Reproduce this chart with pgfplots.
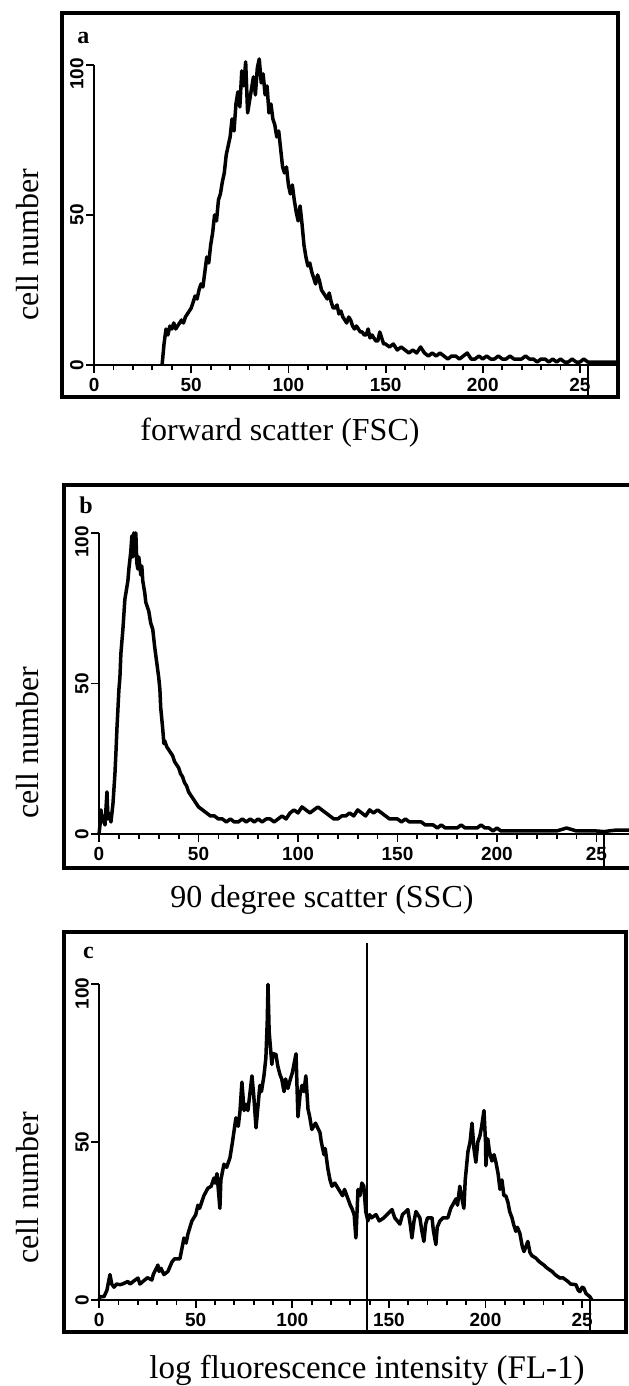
\documentclass[border=0pt]{standalone}
\usepackage{fontspec}
\setmainfont{Liberation Serif}
\newfontfamily\tickfont{Liberation Sans}
\usepackage{pgfplots}
\pgfplotsset{compat=1.18}

\pgfplotsset{
  facs/.style={
    anchor=north west, scale only axis, clip=false,
    axis lines=left, axis line style={draw=none},
    xmin=0, ymin=0,
    xtick={0,50,100,150,200,250},
    xticklabels={0,50,100,150,200,25},
    minor x tick num=4,
    ytick={0,50,100},
    yticklabels={0,50,{100\rule{9pt}{0pt}}},
    tick align=outside,
    major tick length=4pt, minor tick length=2.5pt,
    every tick/.style={black, line width=0.9pt},
    ticklabel style={font=\tickfont\bfseries\fontsize{9.5}{9.5}\selectfont, inner sep=1pt},
    /pgf/number format/assume math mode=true,
    yticklabel style={rotate=90, anchor=south},
    xticklabel style={anchor=north, yshift=-1.5pt},
  },
  hist/.style={black, line width=1.75pt, line join=round, mark=none},
}

\begin{document}
\begin{tikzpicture}
\useasboundingbox (0,0) rectangle (314pt,-693pt);

% ---- panel a ----
\begin{axis}[facs, at={(47.03pt,-6.5pt)}, width=262pt, height=176pt,
  xmax=269.6, ymax=117.3]
\addplot[hist] coordinates {
(35,0)(36,7)(37,12)(38,10)(39,13)(40,12)(41,14)(42,12)(43,13)(44,14)(45,15)(46,14)(47,16)(48,17)(49,18)(50,19)
(51,21)(52,23)(53,22)(54,25)(55,27)(56,26)(57,31)(58,36)(59,34)(60,40)(61,44)(62,50)(63,48)(64,55)(65,57)(66,61)
(67,64)(68,70)(69,73)(70,76)(71,82)(72,78)(73,87)(74,91)(75,86)(76,98)(77,93)(78,101)(79,84)(80,88)(81,92)(82,96)
(83,90)(84,99)(85,102)(86,94)(87,97)(88,90)(89,93)(90,84)(91,87)(92,82)(93,80)(94,76)(95,78)(96,72)(97,66)(98,64)
(99,66)(100,60)(101,57)(102,60)(103,55)(104,51)(105,48)(106,53)(107,47)(108,40)(109,36)(110,33)(111,34)(112,31)
(113,29)(114,27)(115,30)(116,28)(117,25)(118,24)(119,23)(120,22)(121,24)(122,21)(123,19)(124,19)(125,20)(126,17)
(127,18)(128,16)(129,15)(130,14)(131,16)(132,15)(133,13)(134,12)(135,13)(136,12)(137,11)(138,11)(139,10)(140,10)
(141,12)(142,9)(143,10)(144,9)(145,8)(146,8)(147,11)(148,9)(149,7)(150,7)(152,6)(154,7)(156,5)(158,6)(160,5)
(162,4)(164,5)(166,4)(168,6)(170,4)(172,3)(174,4)(176,3)(178,4)(180,3)(182,2)(184,3)(186,3)(188,2)(190,3)(192,4)
(194,2)(196,2)(198,3)(200,2)(202,3)(204,2)(206,2)(208,3)(210,2)(212,2)(214,3)(216,2)(218,2)(220,2)(222,3)(224,2)
(226,2)(228,1)(230,2)(232,2)(234,1)(236,2)(238,1)(240,2)(242,1)(244,1)(246,2)(248,1)(250,1)(252,2)(254,1)(256,1)
(269.6,1)
};
\draw[line width=1pt] (axis cs:0,100) -- (axis cs:0,0) -- (axis cs:269.6,0);
\draw[line width=1pt] (axis cs:254,0) -- (axis cs:254,-10.67);
\draw[line width=1.8pt] (axis cs:-16.5,-10.67) rectangle (axis cs:269.6,117.3);
\node[font=\fontsize{12}{12}\selectfont\bfseries, inner sep=0pt] at (axis cs:-5.5,109) {a};
\end{axis}
\node[rotate=90, font=\fontsize{16}{16}\selectfont] at (14pt,-122.5pt) {cell number};
\node[font=\fontsize{16}{16}\selectfont] at (140pt,-216.5pt) {forward scatter (FSC)};

% ---- panel b ----
\begin{axis}[facs, at={(49.51pt,-242.5pt)}, width=270.5pt, height=174.5pt,
  xmax=271.9, ymax=115.9]
\addplot[hist] coordinates {
(0,0)(0.5,3)(1,8)(1.5,4)(2,6)(3,3)(4,14)(4.5,5)(5,7)(6,4)(7,10)(8,20)(8.5,27)(9,35)(10,48)(10.5,52)(11,60)(12,68)
(12.5,73)(13,78)(14,82)(14.5,84)(15,88)(16,94)(16.5,99)(17,92)(17.5,100)(18,93)(18.5,100)(19,90)(19.5,88)(20,92)
(21,86)(21.5,89)(22,84)(23,80)(23.5,77)(24,76)(25,74)(26,70)(27,68)(28,62)(29,57)(30,52)(30.6,48)(31,42)(32,35)
(32.6,30)(33,31)(34,29)(35,28)(36,27)(37,26)(38,24)(39,23)(40,22)(41,20)(42,19)(43,17)(44,16)(45,14)(46,13)(47,12)
(48,11)(49,10)(50,9)(52,8)(54,7)(56,6)(58,6)(60,5)(62,5)(64,4)(66,5)(68,4)(70,4)(72,5)(74,4)(76,5)(78,4)(80,5)
(82,4)(84,5)(86,5)(88,4)(90,5)(92,6)(94,5)(96,7)(98,8)(100,7)(102,9)(104,8)(106,7)(108,8)(110,9)(112,8)(114,7)
(116,6)(118,5)(120,5)(122,6)(124,6)(126,7)(128,6)(130,8)(132,7)(134,6)(136,8)(138,7)(140,8)(142,7)(144,6)(146,5)
(148,5)(150,5)(152,4)(154,5)(156,4)(158,4)(160,4)(162,4)(164,3)(166,3)(168,3)(170,2)(172,3)(174,2)(176,2)(178,2)
(180,2)(182,3)(184,2)(186,2)(188,2)(190,2)(192,3)(194,2)(196,2)(198,1)(200,2)(202,1)(204,1)(206,1)(208,1)(210,1)
(215,1)(220,1)(225,1)(230,1)(235,2)(240,1)(245,1)(250,1)(254,0.8)(256,1)(260,1.3)(271.9,1.3)
};
\draw[line width=1pt] (axis cs:0,100) -- (axis cs:0,0) -- (axis cs:271.9,0);
\draw[line width=1pt] (axis cs:254,0) -- (axis cs:254,-11.3);
\draw[line width=1.8pt] (axis cs:-17.6,-11.3) rectangle (axis cs:271.9,115.9);
\node[font=\fontsize{12}{12}\selectfont\bfseries, inner sep=0pt] at (axis cs:-6.5,109) {b};
\end{axis}
\node[rotate=90, font=\fontsize{16}{16}\selectfont] at (14pt,-371.5pt) {cell number};
\node[font=\fontsize{16}{16}\selectfont] at (161pt,-450pt) {90 degree scatter (SSC)};

% ---- panel c ----
\begin{axis}[facs, at={(49.58pt,-466pt)}, width=263.4pt, height=183.9pt,
  xmax=272.7, ymax=116.6]
\addplot[hist] coordinates {
(0,0)(0.4,1)(2.5,1)(4,3)(5.6,8)(6.5,5)(7.7,4)(9,5)(10.8,4.8)(12,5)(14.9,5.8)(16,5)(18,6)(20.1,6.9)(21.1,5)(23,6)
(25,7)(27.3,6.3)(28,8)(30.4,11)(31,9)(32,10)(33.5,8)(35.6,9)(37.7,12)(39,13)(41.8,13)(43.9,19.6)(45,18)(46,21)
(48,25)(50,27)(51.1,30)(52,29)(54.2,33)(56.3,35.4)(58,36)(59.4,38.6)(60,37)(61,40)(62.5,29)(63,38)(64.6,43)(66,42)
(67.7,45)(69,50)(70.8,57.7)(72,55)(72.9,59.8)(73.9,69)(75,60)(76,62)(77,60)(79.1,71)(80,65)(81.2,54.5)(82,60)
(83.2,68)(84,66)(85.3,71)(86.3,76.7)(87,88)(87.4,100)(88,85)(88.4,82)(89.4,74.6)(90,78)(91.5,77.8)(92.5,74)
(93.6,71.4)(94.5,70)(95.7,66)(96.5,70)(97.7,67)(99,70)(100,72)(101.9,78)(102.9,58)(104,65)(105,68)(106,66)(107,71)
(108.1,60.5)(109,58)(110.1,54)(112,56)(114.3,53)(115,50)(116.4,46)(117,48)(118.4,41.5)(119.5,38)(120.5,36)(122,37)
(124.6,34.4)(126,33)(127,35)(128.8,32)(130,30)(130.8,29)(132,27)(132.9,19.6)(134,35)(135,33)(136,37)(137,36)
(138,28)(139.1,25)(140,27)(141,26)(143.3,27)(145,25)(147.4,26)(149,27)(151.6,28.6)(153,26)(155.7,24)(157,27)
(159.8,28.6)(161,24)(161.9,19.6)(163,25)(164,28)(166,26)(167,22)(168.1,18.5)(169,24)(170,26)(172.3,26)(173,22)
(174.3,17.5)(175,23)(176.4,25)(178,26)(180.5,26)(182,29)(184.7,32)(185.5,30)(186.7,36)(187.5,33)(188.8,29)
(189.5,38)(190.9,47)(192,50)(193,56)(194,48)(195,43.6)(196,50)(197.1,52)(198,55)(199.2,60)(200,50)(200.2,42.5)
(201.2,51)(202,47)(203.3,44)(204.4,46)(205.4,43.6)(206.5,40)(207.5,35)(208.5,38)(209.5,33)(210.5,33)(211.6,30.9)
(212.5,28)(213.7,26)(214.5,24)(215.7,21.7)(216.5,23)(217.8,21)(219,17)(219.9,15.3)(221,17)(221.9,18.5)(223,15)
(224,14)(226.1,13.2)(228,12)(230.2,11)(232,10)(234.4,9)(236,8)(238.5,6.9)(240,7)(242.7,5.8)(244,5)(246.8,4.8)
(248,3)(248.9,2.6)(250,4)(250.9,3.7)(252,2)(254,1)(255,0)
};
\draw[line width=1pt] (axis cs:0,100) -- (axis cs:0,0) -- (axis cs:272.7,0);
\draw[line width=1pt] (axis cs:254,0) -- (axis cs:254,-10.2);
\draw[line width=1pt] (axis cs:138.6,-10.2) -- (axis cs:138.6,113);
\draw[line width=1.8pt] (axis cs:-18.2,-10.2) rectangle (axis cs:272.7,116.6);
\node[font=\fontsize{12}{12}\selectfont\bfseries, inner sep=0pt] at (axis cs:-5.5,110) {c};
\end{axis}
\node[rotate=90, font=\fontsize{16}{16}\selectfont] at (14pt,-594pt) {cell number};
\node[font=\fontsize{16.5}{16.5}\selectfont] at (183.5pt,-685pt) {log fluorescence intensity (FL-1)};
\end{tikzpicture}
\end{document}
